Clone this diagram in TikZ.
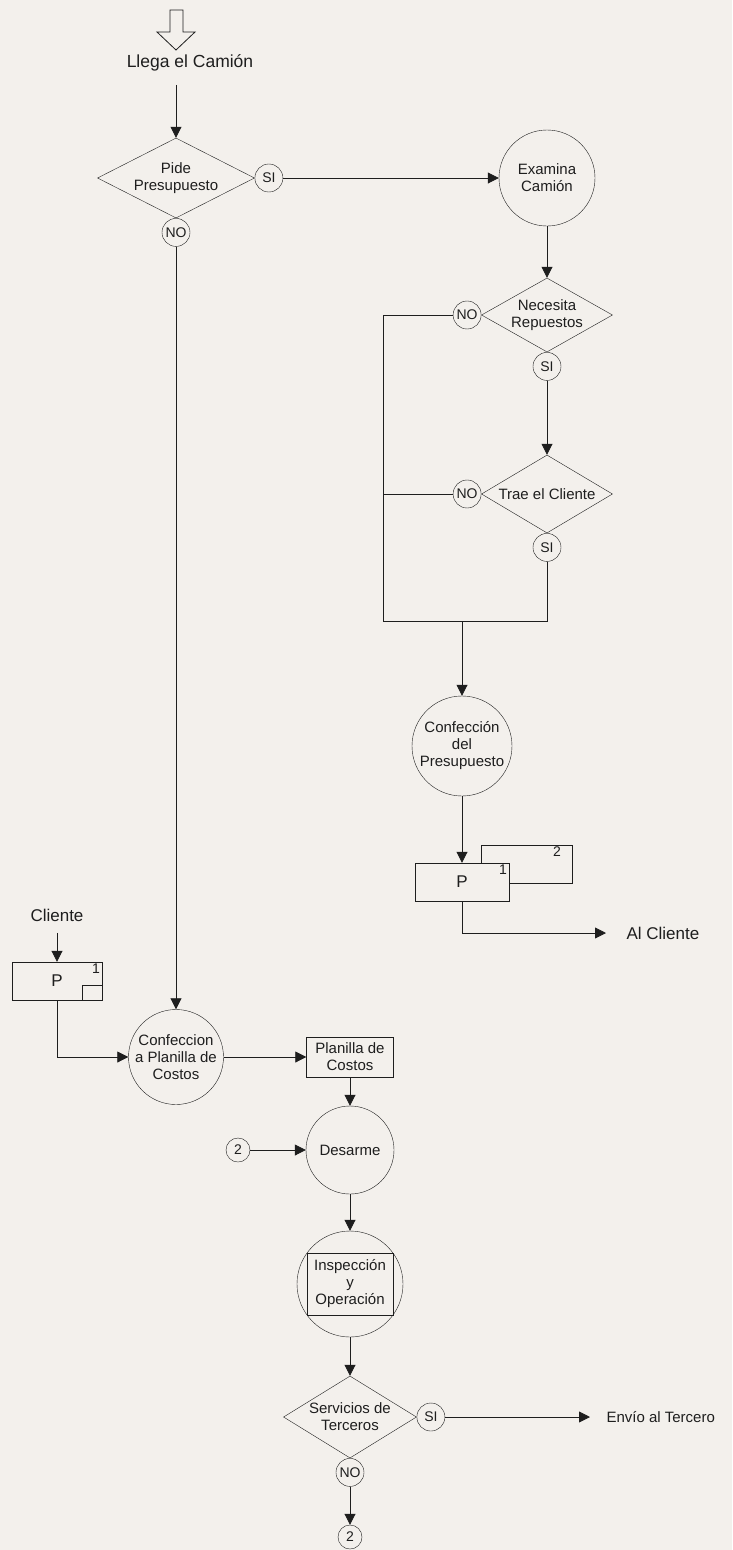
\documentclass[tikz,border=0pt]{standalone}
\usepackage{fontspec}
\setmainfont{Liberation Sans}
\usetikzlibrary{arrows.meta,positioning,shapes.geometric}
\definecolor{papel}{RGB}{243,240,236}
\definecolor{tinta}{RGB}{30,30,30}

\begin{document}
\begin{tikzpicture}[
    x=1pt, y=-1pt,
    texto/.style={font=\fontsize{15}{17}\selectfont, align=center, text=tinta},
    proceso/.style={texto, draw=tinta, circle, minimum size=96pt, inner sep=-2pt},
    decision/.style={texto, draw=tinta, diamond, aspect=1.7, inner sep=-4pt},
    resp/.style={draw=tinta, circle, fill=papel, minimum size=28pt, inner sep=0pt, text=tinta, font=\fontsize{14}{14}\selectfont},
    conector/.style={draw=tinta, circle, minimum size=24pt, inner sep=0pt, text=tinta, font=\fontsize{14}{14}\selectfont},
    doc/.style={draw=tinta, fill=papel, rectangle, minimum height=38pt, inner sep=0pt, text=tinta, font=\fontsize{17}{17}\selectfont},
    num/.style={anchor=north east, inner sep=2pt, text=tinta, font=\fontsize{14}{14}\selectfont},
    rotulo/.style={text=tinta, font=\fontsize{17}{17}\selectfont},
    linea/.style={draw=tinta, line width=0.8pt},
    arrow/.style={linea, -{Triangle[length=11pt, width=11pt]}}
]
\fill[papel] (0,0) rectangle (732,1550);
\useasboundingbox (0,0) rectangle (732,1550);

\coordinate (inicio) at (176,50);
\node[rotulo, font=\fontsize{17.5}{20}\selectfont] (llega) at (190,63) {Llega el Camión};
\node[decision, minimum width=157pt, minimum height=80pt] (pide) at (176,178) {Pide\\Presupuesto};
\node[resp, right=0pt of pide] (pideSI) {SI};
\node[resp, below=0pt of pide] (pideNO) {NO};
\node[proceso] (examina) at (547,178) {Examina\\Camión};
\node[decision, minimum width=131pt, minimum height=74pt] (necesita) at (547,315) {Necesita\\Repuestos};
\node[resp, left=0pt of necesita] (necNO) {NO};
\node[resp, below=0pt of necesita] (necSI) {SI};
\node[decision, minimum width=131pt, minimum height=78pt] (trae) at (547,494) {Trae el Cliente};
\node[resp, left=0pt of trae] (traeNO) {NO};
\node[resp, below=0pt of trae] (traeSI) {SI};
\coordinate (izq) at (383,621);
\node[proceso, minimum size=100pt] (confPres) at (462,746) {Confección\\del\\Presupuesto};
\node[doc, minimum width=91pt, label={[num, xshift=-9pt]north east:2}] (copia) at (526.5,864) {};
\node[doc, minimum width=94pt, label={[num]north east:1}] (presup) at (462,882) {P};
\node[rotulo, anchor=west] (alCliente) at (623,933) {Al Cliente};
\node[rotulo] (cliente) at (57,915) {Cliente};
\node[doc, minimum width=90pt, label={[num]north east:1}] (pcliente) at (57,981) {P};
\node[proceso, minimum size=95pt] (confPlan) at (176,1057) {Confeccion\\a Planilla de\\Costos};
\node[texto, draw=tinta, minimum width=87pt, minimum height=40pt, inner sep=0pt] (planilla) at (350,1057) {Planilla de\\Costos};
\node[proceso, minimum size=88pt] (desarme) at (350,1150) {Desarme};
\node[conector] (dos) at (238,1150) {2};
\node[proceso, minimum size=106pt] (inspeccion) at (350,1284) {};
\node[texto, draw=tinta, minimum width=86pt, minimum height=62pt, inner sep=0pt] (inspTexto) at (inspeccion) {Inspección\\y\\Operación};
\node[decision, minimum width=133pt, minimum height=82pt] (servicios) at (350,1417) {Servicios de\\Terceros};
\node[resp, right=0pt of servicios] (servSI) {SI};
\node[resp, below=0pt of servicios] (servNO) {NO};
\node[texto, anchor=west] (envio) at (603,1417) {Envío al Tercero};
\node[conector] (dosFin) at (350,1537) {2};

\draw[linea] (inicio) -- ++(-19,-18) -- ++(13,0) -- ++(0,-22) -- ++(13,0) -- ++(0,22) -- ++(12,0) -- cycle;
\draw[arrow] ([yshift=-10pt]llega.south -| pide.north) -- (pide.north);
\draw[arrow] (pideSI) -- (examina);
\draw[arrow] (pideNO) -- (confPlan);
\draw[arrow] (examina) -- (necesita);
\draw[arrow] (necSI) -- (trae);
\draw[linea] (necNO) -- (necNO -| izq) -- (izq) -- (izq -| traeSI) -- (traeSI);
\draw[linea] (traeNO) -- (traeNO -| izq);
\draw[arrow] (confPres.north |- izq) -- (confPres);
\draw[arrow] (confPres) -- (presup);
\draw[arrow, shorten >=17pt] (presup) |- (alCliente.west);
\draw[arrow] ([yshift=-8pt]cliente.south) -- (pcliente);
\draw[linea] (pcliente.south east) rectangle ++(-20,-15);
\draw[arrow] (pcliente) |- (confPlan);
\draw[arrow] (confPlan) -- (planilla);
\draw[arrow] (planilla) -- (desarme);
\draw[arrow] (dos) -- (desarme);
\draw[arrow] (desarme) -- (inspeccion);
\draw[arrow] (inspeccion) -- (servicios);
\draw[arrow, shorten >=13pt] (servSI) -- (envio.west);
\draw[arrow] (servNO) -- (dosFin);
\end{tikzpicture}
\end{document}
